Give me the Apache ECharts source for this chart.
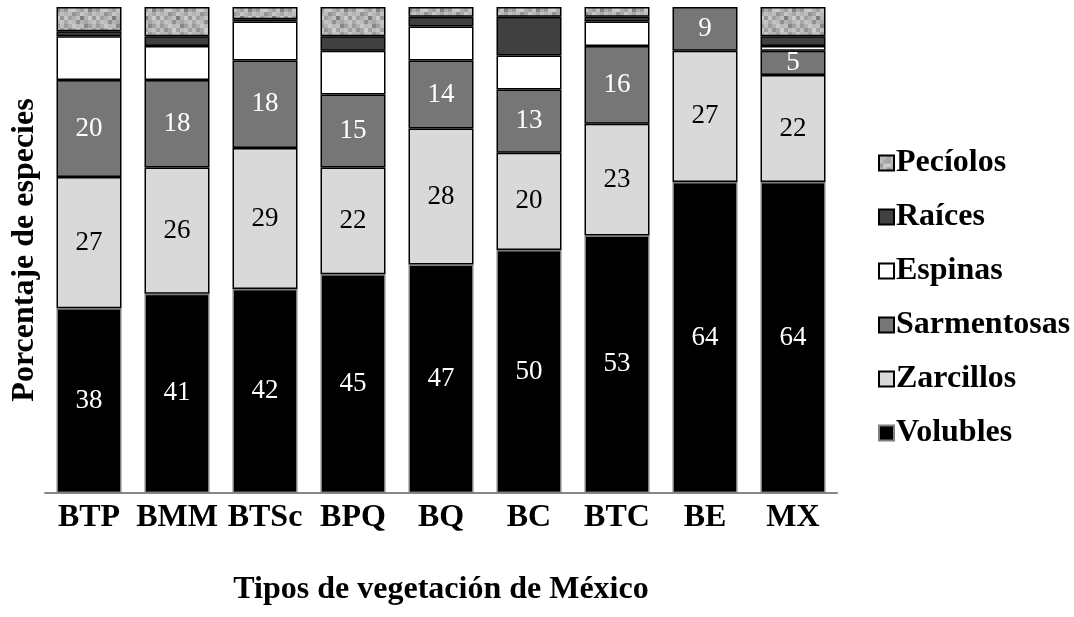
<!DOCTYPE html>
<html>
<head>
<meta charset="utf-8">
<script src="https://cdn.jsdelivr.net/npm/echarts@6/dist/echarts.min.js"></script>
<style>
  html, body { margin: 0; padding: 0; background: #fff; }
  #chart { width: 1074px; height: 617px; }
</style>
</head>
<body>
<div id="chart"></div>
<script>
// Vegetation types (x axis categories)
const categories = ['BTP', 'BMM', 'BTSc', 'BPQ', 'BQ', 'BC', 'BTC', 'BE', 'MX'];

// Percentage of climbing species by climbing mechanism
const volubles    = [38, 41, 42, 45, 47, 50, 53, 64, 64];
const zarcillos   = [27, 26, 29, 22, 28, 20, 23, 27, 22];
const sarmentosas = [20, 18, 18, 15, 14, 13, 16, 9, 5];
const espinas     = [9, 7, 8, 9, 7, 7, 5, null, 1];
const raices      = [1, 2, 0.5, 3, 2, 8, 1, null, 2];
const peciolos    = [5, 6, 2.5, 6, 2, 2, 2, null, 6];

const legendOrder = ['Pecíolos', 'Raíces', 'Espinas', 'Sarmentosas', 'Zarcillos', 'Volubles'];

// Grey mosaic fill used for the "Pecíolos" segments
const mosaicShades = [
  0xb8, 0xb8, 0xa4, 0xc4, 0xc4, 0x9c, 0xb0, 0xc8,
  0xc0, 0xa8, 0xa4, 0xbc, 0x8c, 0x9c, 0xc0, 0xb4,
  0x98, 0xc8, 0xcc, 0xb0, 0xa0, 0xc4, 0x84, 0xac,
  0xb4, 0xbc, 0x94, 0xa8, 0xc8, 0xb8, 0xa8, 0xc0,
  0xc8, 0xa0, 0xb0, 0xc0, 0x7c, 0xb0, 0xcc, 0x98,
  0xa8, 0xc4, 0xbc, 0x90, 0xb4, 0xa4, 0xb8, 0xc4,
  0x9c, 0xb0, 0xc8, 0xb8, 0xc0, 0x88, 0xa0, 0xbc,
  0xc0, 0x94, 0xa8, 0xcc, 0xa4, 0xbc, 0xc4, 0xa0
];
function mosaicPattern() {
  const cell = 4, n = 8;
  const c = document.createElement('canvas');
  c.width = cell * n; c.height = cell * n;
  const ctx = c.getContext('2d');
  for (let r = 0; r < n; r++) {
    for (let k = 0; k < n; k++) {
      const v = mosaicShades[r * n + k];
      ctx.fillStyle = 'rgb(' + v + ',' + v + ',' + v + ')';
      ctx.fillRect(k * cell, r * cell, cell, cell);
    }
  }
  return { image: c, repeat: 'repeat' };
}

const serif = '"Liberation Serif", "Times New Roman", serif';
const boldText = { fontFamily: serif, fontWeight: 'bold', fontSize: 32, color: '#000' };

function seg(name, data, color, labelColor, border) {
  return {
    name: name,
    type: 'bar',
    stack: 'total',
    barWidth: 65,
    data: data,
    itemStyle: {
      color: color,
      borderColor: border || '#000',
      borderWidth: 1.5
    },
    label: {
      show: !!labelColor,
      position: 'inside',
      color: labelColor || '#000',
      fontFamily: serif,
      fontSize: 27,
      formatter: p => (p.value == null ? '' : String(p.value))
    },
    emphasis: { disabled: true }
  };
}

const chart = echarts.init(document.getElementById('chart'), null, { renderer: 'canvas' });
chart.setOption({
  animation: false,
  backgroundColor: '#fff',
  grid: { left: 45, right: 237, top: 7, bottom: 124 },
  legend: {
    orient: 'vertical',
    left: 873,
    top: 142,
    data: legendOrder,
    itemWidth: 15,
    itemHeight: 15,
    itemGap: 22,
    icon: 'rect',
    textStyle: Object.assign({}, boldText, { padding: [0, 0, 0, -3] }),
    selectedMode: false
  },
  xAxis: {
    type: 'category',
    data: categories,
    axisLine: { show: true, lineStyle: { color: '#868686', width: 2 } },
    axisTick: { show: false },
    axisLabel: Object.assign({ interval: 0, margin: 9 }, boldText),
    name: 'Tipos de vegetación de México',
    nameLocation: 'middle',
    nameGap: 81,
    nameTextStyle: boldText
  },
  yAxis: {
    type: 'value',
    min: 0,
    max: 100,
    interval: 20,
    axisLine: { show: false },
    axisTick: { show: false },
    axisLabel: { show: false },
    splitLine: { show: false },
    name: 'Porcentaje de especies',
    nameLocation: 'middle',
    nameRotate: 90,
    nameGap: 4,
    nameTextStyle: boldText
  },
  series: [
    seg('Volubles', volubles, '#000000', '#ffffff', '#7f7f7f'),
    seg('Zarcillos', zarcillos, '#d9d9d9', '#000000'),
    seg('Sarmentosas', sarmentosas, '#767676', '#ffffff'),
    seg('Espinas', espinas, '#ffffff', null),
    seg('Raíces', raices, '#404040', null),
    seg('Pecíolos', peciolos, mosaicPattern(), null)
  ]
});
</script>
</body>
</html>
